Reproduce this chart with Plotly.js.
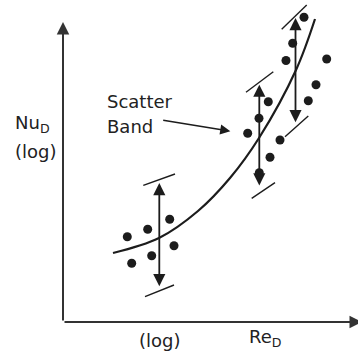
<!DOCTYPE html>
<html>
<head>
<meta charset="utf-8">
<script src="https://cdn.plot.ly/plotly-3.0.1.min.js"></script>
<style>html,body{margin:0;padding:0;background:#fff;}#chart{width:358px;height:354px;}</style>
</head>
<body>
<div id="chart"></div>
<script>
// Schematic coordinates: u = log Re (arbitrary units), v = log Nu (arbitrary units)
// Scatter data points
const pointsU = [64.3, 84.7, 106.7, 111, 88.7, 68.7,
                 184.7, 196, 205.3, 196.3, 207, 217,
                 241, 229.7, 223, 263.7, 253, 245.3];
const pointsV = [85.3, 92.7, 102.7, 76.3, 66.3, 58.7,
                 188.7, 203.7, 220.3, 149.3, 164.7, 182,
                 304.7, 278.7, 261.5, 263, 237.3, 221.3];
// Correlation curve
const curveU = [50, 96, 135, 167, 196, 233, 252];
const curveV = [69, 84, 111, 144, 184, 252, 303];
// Scatter band double arrows: position, top, bottom
const bandU = [96.3, 196.3, 232.5];
const bandTop = [142, 240.3, 307];
const bandBottom = [31.3, 132, 195.3];
// Slanted caps at the band ends: [u1, v1, u2, v2]
const caps = [
  [80.3, 136.7, 112, 148], [82, 25.3, 111, 37],
  [183, 229.7, 210.3, 250.3], [188.7, 123.7, 212, 139.3],
  [218.7, 292.7, 243.7, 317], [222, 185.3, 245.3, 206]
];
// Axis extents
const axisEndU = 302;
const axisEndV = 303;
// Pointer from label to band
const pointerFrom = [98.7, 202];
const pointerTo = [170.3, 190.3];
// Labels
const labelText = ['Scatter', 'Band', 'Nu<sub>D</sub>', '(log)', '(log)', 'Re<sub>D</sub>'];
const labelU = [42, 42, -50.3, -50.3, 73.7, 183.7];
const labelV = [220.3, 195.7, 198, 170.5, -18.7, -16.3];

const ink = '#1c1c1c';
const capU = [], capV = [];
caps.forEach(c => { capU.push(c[0], c[2], null); capV.push(c[1], c[3], null); });

const traces = [
  {x: curveU, y: curveV, mode: 'lines', line: {color: ink, width: 2.2, shape: 'spline', smoothing: 1}, hoverinfo: 'skip'},
  {x: capU, y: capV, mode: 'lines', line: {color: ink, width: 1.4}, hoverinfo: 'skip', connectgaps: false},
  {x: pointsU, y: pointsV, mode: 'markers', marker: {color: ink, size: 9}, hoverinfo: 'skip'}
];

const ann = [];
bandU.forEach((u, i) => {
  ann.push({x: u, y: bandTop[i], ax: u, ay: bandBottom[i], axref: 'x', ayref: 'y', xref: 'x', yref: 'y',
    text: '', showarrow: true, arrowhead: 2, startarrowhead: 2, arrowside: 'end+start',
    arrowwidth: 1.8, arrowsize: 1.35, startarrowsize: 1.35, arrowcolor: ink, standoff: 3, startstandoff: 3});
});
// axes
ann.push({x: 0, y: axisEndV, ax: 0, ay: 0, axref: 'x', ayref: 'y', xref: 'x', yref: 'y', text: '', showarrow: true,
  arrowhead: 2, arrowwidth: 2, arrowsize: 1.25, arrowcolor: '#333', standoff: 3});
ann.push({x: axisEndU, y: 0, ax: 0, ay: 0, axref: 'x', ayref: 'y', xref: 'x', yref: 'y', text: '', showarrow: true,
  arrowhead: 2, arrowwidth: 2, arrowsize: 1.25, arrowcolor: '#333', standoff: 3});
// pointer
ann.push({x: pointerTo[0], y: pointerTo[1], ax: pointerFrom[0], ay: pointerFrom[1], axref: 'x', ayref: 'y', xref: 'x', yref: 'y',
  text: '', showarrow: true, arrowhead: 2, arrowwidth: 1.5, arrowsize: 1.35, arrowcolor: ink, standoff: 3});
labelText.forEach((t, i) => {
  ann.push({x: labelU[i], y: labelV[i], xref: 'x', yref: 'y', text: t, showarrow: false,
    xanchor: 'left', yanchor: 'middle', font: {family: 'DejaVu Sans', size: 18, color: '#222'}});
});

const layout = {
  width: 358, height: 354,
  margin: {l: 0, r: 0, t: 0, b: 0},
  paper_bgcolor: '#fff', plot_bgcolor: '#fff',
  showlegend: false,
  xaxis: {range: [-63, 295], visible: false, fixedrange: true},
  yaxis: {range: [-32, 322], visible: false, fixedrange: true},
  annotations: ann
};
Plotly.newPlot('chart', traces, layout, {staticPlot: true, displayModeBar: false});
</script>
</body>
</html>
